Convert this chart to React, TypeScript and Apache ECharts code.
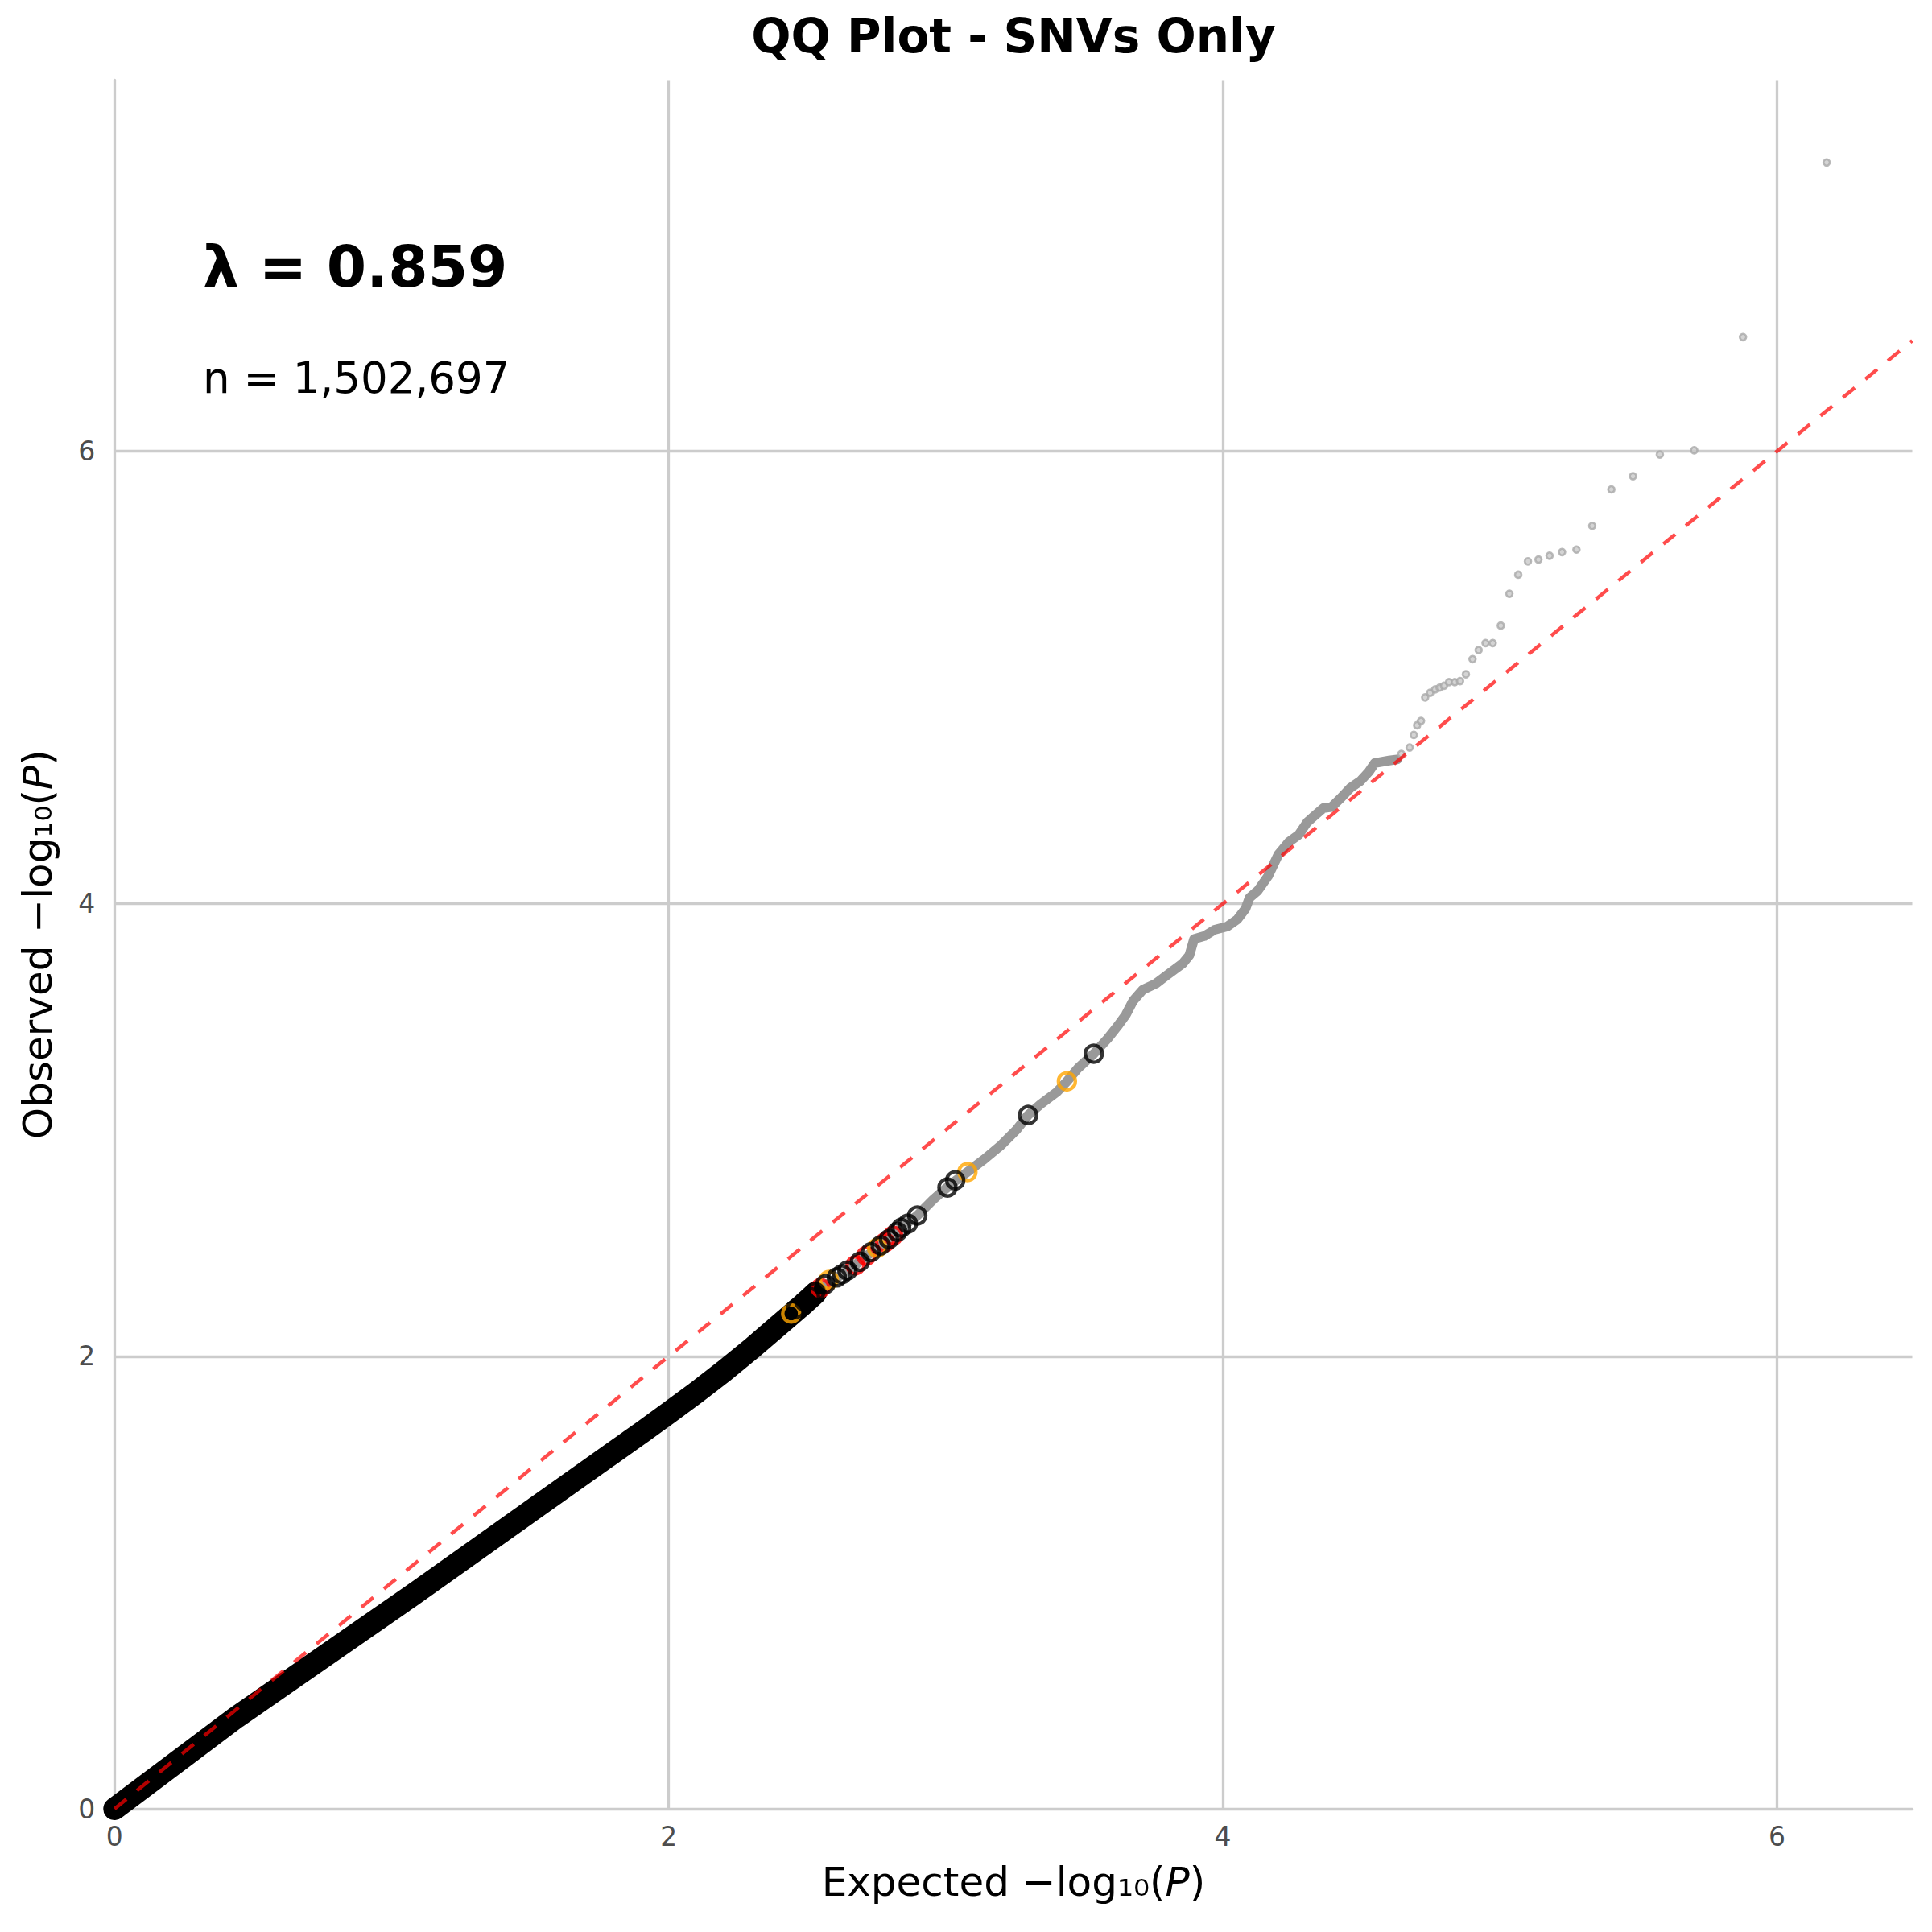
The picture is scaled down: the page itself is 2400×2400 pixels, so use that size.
import React, { useEffect, useRef } from "react";
import * as echarts from "echarts";

const TITLE = "QQ Plot - SNVs Only";
const LAMBDA_TEXT = "λ = 0.859";
const N_TEXT = "n = 1,502,697";
const X_MAX = 6.488;
const Y_MAX = 7.64;
const TICK_INTERVAL = 2;
const FONT = "DejaVu Sans";

// Dense gray band of all variants (expected, observed)
const grayBand: number[][] = [
  [0, 0], [0.44, 0.405], [1.07, 0.94], [1.5, 1.314], [1.91, 1.67], [2.0, 1.75],
  [2.1, 1.84], [2.2, 1.935], [2.3, 2.035], [2.39, 2.13], [2.49, 2.235], [2.55, 2.3],
  [2.61, 2.35], [2.67, 2.4], [2.71, 2.44], [2.78, 2.5], [2.84, 2.57], [2.897, 2.622],
  [2.955, 2.693], [3.005, 2.746], [3.034, 2.775], [3.08, 2.816], [3.139, 2.871],
  [3.197, 2.93], [3.255, 3.001], [3.297, 3.066], [3.342, 3.114], [3.4, 3.167],
  [3.437, 3.215], [3.478, 3.274], [3.534, 3.337], [3.584, 3.404], [3.623, 3.464],
  [3.65, 3.51], [3.676, 3.571], [3.711, 3.62], [3.758, 3.647], [3.79, 3.677],
  [3.855, 3.736], [3.879, 3.772], [3.896, 3.844], [3.933, 3.857], [3.97, 3.885],
  [4.015, 3.899], [4.052, 3.931], [4.082, 3.979], [4.096, 4.026], [4.126, 4.058],
  [4.163, 4.122], [4.2, 4.217], [4.237, 4.272], [4.274, 4.305], [4.304, 4.36],
  [4.326, 4.384], [4.363, 4.423], [4.392, 4.427], [4.422, 4.463], [4.459, 4.511],
  [4.496, 4.542], [4.526, 4.582], [4.548, 4.622], [4.6, 4.633], [4.629, 4.638],
];

// Sparse top gray points
const graySparse: number[][] = [
  [4.644, 4.662], [4.674, 4.69], [4.689, 4.746], [4.701, 4.789], [4.715, 4.808],
  [4.73, 4.912], [4.748, 4.932], [4.766, 4.947], [4.782, 4.955], [4.798, 4.963],
  [4.816, 4.979], [4.837, 4.979], [4.856, 4.984], [4.877, 5.014], [4.901, 5.081],
  [4.923, 5.121], [4.948, 5.152], [4.974, 5.152], [5.003, 5.229], [5.034, 5.37],
  [5.066, 5.454], [5.101, 5.513], [5.139, 5.521], [5.179, 5.538], [5.224, 5.554],
  [5.276, 5.565], [5.333, 5.67], [5.402, 5.831], [5.48, 5.889], [5.577, 5.985],
  [5.701, 6.004], [5.877, 6.504], [6.179, 7.276],
];

// Dense black band of highlighted variants
const blackBand: number[][] = [
  [0, 0], [0.44, 0.405], [1.07, 0.94], [1.5, 1.314], [1.91, 1.67], [2.0, 1.75],
  [2.1, 1.84], [2.2, 1.935], [2.3, 2.035], [2.39, 2.13], [2.49, 2.235], [2.53, 2.28],
];

const blackCircles: number[][] = [
  [2.46, 2.21], [2.49, 2.242], [2.51, 2.262], [2.529, 2.284], [2.565, 2.318],
  [2.607, 2.349], [2.625, 2.362], [2.645, 2.379], [2.69, 2.418], [2.73, 2.46],
  [2.765, 2.49], [2.795, 2.518], [2.825, 2.55], [2.839, 2.568], [2.863, 2.586],
  [2.897, 2.622], [3.006, 2.746], [3.034, 2.778], [3.297, 3.066], [3.534, 3.337],
];
const orangeCircles: number[][] = [
  [2.442, 2.189], [2.578, 2.337], [2.752, 2.479], [3.078, 2.814], [3.437, 3.215],
];
const redCircles: number[][] = [
  [2.548, 2.302], [2.674, 2.402], [2.713, 2.444], [2.781, 2.504], [2.81, 2.533],
];

const diagonal: number[][] = [
  [0, 0],
  [X_MAX, X_MAX],
];

const hollow = (color: string, z: number) => ({
  type: "scatter",
  symbol: "circle",
  symbolSize: 21,
  itemStyle: { color: "rgba(0,0,0,0)", borderColor: color, borderWidth: 4.4 },
  z,
  silent: true,
});

export default function App() {
  const ref = useRef<HTMLDivElement>(null);
  useEffect(() => {
    if (!ref.current) return;
    const chart = echarts.init(ref.current, undefined, { renderer: "svg" });
    const axisCommon = {
      type: "value",
      interval: TICK_INTERVAL,
      axisLine: { show: true, lineStyle: { color: "#cccccc", width: 3.3 } },
      axisTick: { show: false },
      splitLine: {
        show: true,
        showMinLine: false,
        showMaxLine: false,
        lineStyle: { color: "#cccccc", width: 3.3 },
      },
      nameLocation: "middle",
      nameTextStyle: {
        rich: {
          n: { fontSize: 50, fontFamily: FONT, color: "#000000" },
          i: { fontSize: 50, fontFamily: FONT, color: "#000000", fontStyle: "italic" },
        },
      },
    };
    const option = {
      animation: false,
      backgroundColor: "#ffffff",
      grid: { left: 142.3, right: 24.5, top: 99.5, bottom: 153 },
      xAxis: {
        ...axisCommon,
        min: 0,
        max: X_MAX,
        name: "{n|Expected −log₁₀(}{i|P}{n|)}",
        nameGap: 66,
        axisLabel: {
          fontSize: 33,
          color: "#4d4d4d",
          fontFamily: FONT,
          margin: 18,
          showMaxLabel: false,
        },
      },
      yAxis: {
        ...axisCommon,
        min: 0,
        max: Y_MAX,
        name: "{n|Observed −log₁₀(}{i|P}{n|)}",
        nameGap: 70,
        axisLabel: {
          fontSize: 33,
          color: "#4d4d4d",
          fontFamily: FONT,
          margin: 24,
          showMaxLabel: false,
        },
      },
      graphic: [
        {
          type: "text",
          x: 1259,
          y: 45,
          style: {
            text: TITLE,
            fontSize: 58,
            fontWeight: "bold",
            fontFamily: FONT,
            fill: "#000000",
            align: "center",
            verticalAlign: "middle",
          },
        },
        {
          type: "text",
          x: 252,
          y: 331,
          style: {
            text: LAMBDA_TEXT,
            fontSize: 71,
            fontWeight: "bold",
            fontFamily: FONT,
            fill: "#000000",
            align: "left",
            verticalAlign: "middle",
          },
        },
        {
          type: "text",
          x: 252,
          y: 469,
          style: {
            text: N_TEXT,
            fontSize: 53,
            fontFamily: FONT,
            fill: "#000000",
            align: "left",
            verticalAlign: "middle",
          },
        },
      ],
      series: [
        {
          type: "line",
          data: grayBand,
          showSymbol: false,
          symbol: "none",
          lineStyle: { color: "#999999", width: 12, cap: "round", join: "round" },
          z: 1,
          silent: true,
        },
        {
          type: "scatter",
          data: graySparse,
          symbol: "circle",
          symbolSize: 8,
          itemStyle: { color: "#c9c9c9", borderColor: "#a9a9a9", borderWidth: 2.6 },
          z: 2,
          silent: true,
        },
        {
          type: "line",
          data: blackBand,
          showSymbol: false,
          symbol: "none",
          lineStyle: { color: "#000000", width: 28, cap: "round", join: "round" },
          z: 3,
          silent: true,
        },
        { ...hollow("#ff0000", 4), data: redCircles },
        { ...hollow("#ffa500", 4), data: orangeCircles },
        { ...hollow("#000000", 5), data: blackCircles },
        {
          type: "line",
          data: diagonal,
          showSymbol: false,
          symbol: "none",
          lineStyle: { color: "rgba(255,0,0,0.7)", width: 4.5, type: [19, 17] },
          z: 6,
          silent: true,
        },
      ],
    };
    chart.setOption(option as any);
    return () => chart.dispose();
  }, []);
  return (
    <div
      ref={ref}
      style={{ position: "absolute", left: 0, top: 0, width: 2400, height: 2400 }}
    />
  );
}
